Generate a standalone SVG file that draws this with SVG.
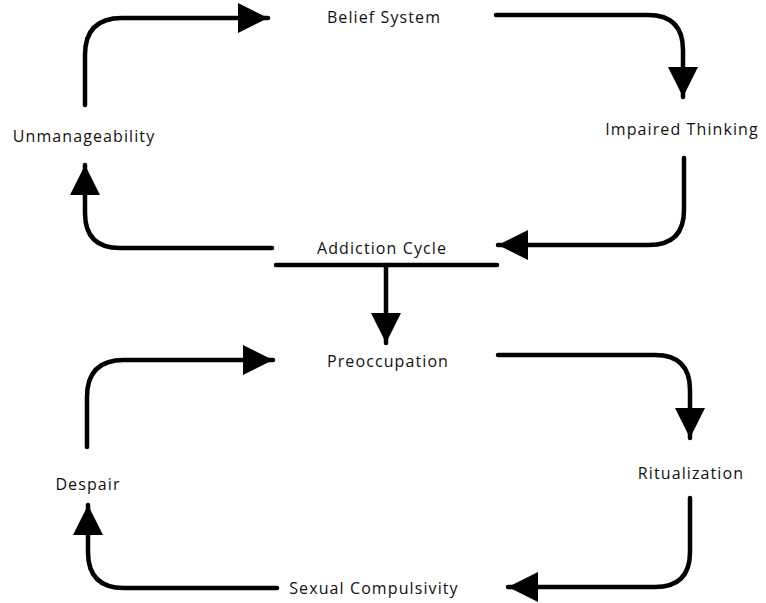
<svg xmlns="http://www.w3.org/2000/svg" width="766" height="603" viewBox="0 0 766 603">
<defs>
<style>
.lbl{font-family:"Open Sans","Liberation Sans",sans-serif;font-size:16px;letter-spacing:1.1px;fill:#111;text-anchor:middle}
.c{fill:none;stroke:#000;stroke-width:4.5;stroke-linecap:round;stroke-linejoin:round}
</style>
<marker id="ah" viewBox="0 0 10 10" refX="10" refY="5" markerWidth="30" markerHeight="32" markerUnits="userSpaceOnUse" orient="auto">
<path d="M0,0 L10,5 L0,10 Z" fill="#000"/>
</marker>
</defs>
<rect width="766" height="603" fill="#fff"/>
<g id="connectors">
<path class="c" d="M85,105 V55 Q85,18 122,18 H268" marker-end="url(#ah)"/>
<path class="c" d="M496,15 H648 Q683,15 683,50 V97" marker-end="url(#ah)"/>
<path class="c" d="M684,158 V210 Q684,245 649,245 H498" marker-end="url(#ah)"/>
<path class="c" d="M272,248 H120 Q85,248 85,213 V165" marker-end="url(#ah)"/>
<path class="c" d="M276,265 H497"/>
<path class="c" d="M386,265 V343" marker-end="url(#ah)"/>
<path class="c" d="M87,447 V397 Q87,360 124,360 H273" marker-end="url(#ah)"/>
<path class="c" d="M498,355 H655 Q690,355 690,390 V438" marker-end="url(#ah)"/>
<path class="c" d="M690,498 V552 Q690,587 655,587 H508" marker-end="url(#ah)"/>
<path class="c" d="M277,588 H124 Q88,588 88,552 V505" marker-end="url(#ah)"/>
</g>
<g id="belief-system"><text class="lbl" x="384" y="23">Belief System</text></g>
<g id="impaired-thinking"><text class="lbl" x="682" y="135">Impaired Thinking</text></g>
<g id="addiction-cycle"><text class="lbl" x="382" y="254">Addiction Cycle</text></g>
<g id="unmanageability"><text class="lbl" x="84" y="142">Unmanageability</text></g>
<g id="preoccupation"><text class="lbl" x="388" y="367">Preoccupation</text></g>
<g id="ritualization"><text class="lbl" x="691" y="479">Ritualization</text></g>
<g id="sexual-compulsivity"><text class="lbl" x="374" y="594">Sexual Compulsivity</text></g>
<g id="despair"><text class="lbl" x="88" y="490">Despair</text></g>
</svg>
